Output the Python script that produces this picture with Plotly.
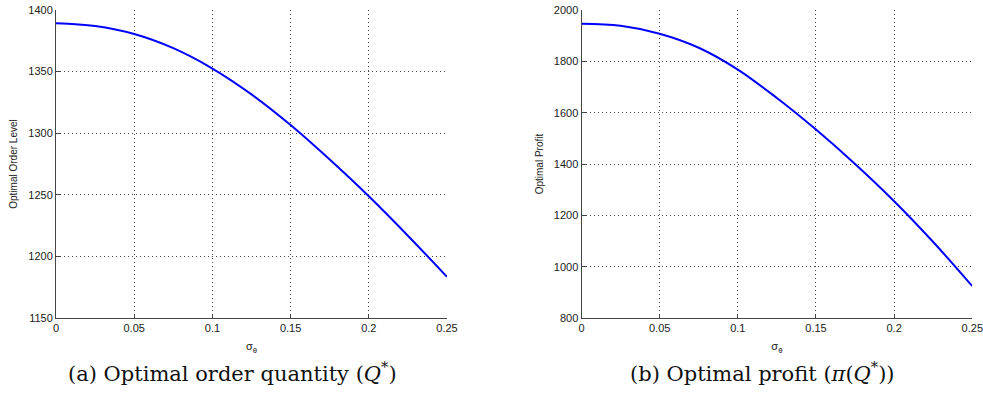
import plotly.graph_objects as go

# sigma_theta values
sigma = [0.0, 0.025, 0.05, 0.075, 0.1, 0.125, 0.15, 0.175, 0.2, 0.225, 0.25]
# (a) optimal order quantity Q*
order_level = [1389.3, 1387.0, 1380.5, 1369.0, 1352.5, 1331.5, 1306.6, 1278.6, 1248.8, 1216.8, 1183.4]
# (b) optimal profit pi(Q*)
profit = [1946.5, 1938.5, 1907.5, 1853.0, 1768.0, 1657.0, 1534.0, 1400.0, 1255.0, 1096.0, 924.0]

x_ticks = [0, 0.05, 0.1, 0.15, 0.2, 0.25]
x_ticktext = ["0", "0.05", "0.1", "0.15", "0.2", "0.25"]
y1_ticks = [1150, 1200, 1250, 1300, 1350, 1400]
y2_ticks = [800, 1000, 1200, 1400, 1600, 1800, 2000]

x_title = "σ<sub>θ</sub>"
y1_title = "Optimal Order Level"
y2_title = "Optimal Profit"
cap_a = "(a) Optimal order quantity (<i>Q</i><sup>*</sup>)"
cap_b = "(b) Optimal profit (<i>π</i>(<i>Q</i><sup>*</sup>))"

W, H = 983, 403
sans = "Liberation Sans, Arial, sans-serif"
tick_font = dict(family=sans, size=11, color="#222")
title_font = dict(family=sans, size=10, color="#222")
xtitle_font = dict(family=sans, size=11, color="#222")
cap_font = dict(family="DejaVu Serif, Liberation Serif, serif", size=21, color="#111")

fig = go.Figure()
fig.add_trace(go.Scatter(x=sigma, y=order_level, mode="lines",
                         line=dict(color="#0000ff", width=2, shape="spline", smoothing=1.0),
                         xaxis="x", yaxis="y", showlegend=False))
fig.add_trace(go.Scatter(x=sigma, y=profit, mode="lines",
                         line=dict(color="#0000ff", width=2, shape="spline", smoothing=1.0),
                         xaxis="x2", yaxis="y2", showlegend=False))

common_axis = dict(showline=True, linecolor="#444", linewidth=1, ticks="inside", ticklen=4, tickcolor="#444",
                   showgrid=True, gridcolor="#444", gridwidth=1, griddash="1px,3px", zeroline=False,
                   mirror=False, tickfont=tick_font, automargin=False, ticklabeloverflow="allow")

y_dom = [1 - 318 / H, 1 - 10 / H]
fig.update_layout(
    width=W, height=H,
    margin=dict(l=0, r=0, t=0, b=0, autoexpand=False),
    paper_bgcolor="white", plot_bgcolor="white",
    xaxis=dict(domain=[56 / W, 447 / W], range=[0, 0.25], tickvals=x_ticks, ticktext=x_ticktext,
               anchor="y", title=dict(text=x_title, font=xtitle_font, standoff=9), **common_axis),
    yaxis=dict(domain=y_dom, range=[1150, 1400], tickvals=y1_ticks, anchor="x",
               title=dict(text=y1_title, font=title_font, standoff=8), **common_axis),
    xaxis2=dict(domain=[581.5 / W, 972.3 / W], range=[0, 0.25], tickvals=x_ticks, ticktext=x_ticktext,
                anchor="y2", title=dict(text=x_title, font=xtitle_font, standoff=9), **common_axis),
    yaxis2=dict(domain=y_dom, range=[800, 2000], tickvals=y2_ticks, anchor="x2",
                title=dict(text=y2_title, font=title_font, standoff=8), **common_axis),
    annotations=[
        dict(text=cap_a, x=232 / W, y=1 - 372 / H, xref="paper", yref="paper", showarrow=False,
             xanchor="center", yanchor="middle", font=cap_font),
        dict(text=cap_b, x=762 / W, y=1 - 372 / H, xref="paper", yref="paper", showarrow=False,
             xanchor="center", yanchor="middle", font=cap_font),
    ],
)

fig.write_html("out.html", config={"displayModeBar": False},
               post_script="document.body.style.margin='0';document.body.style.overflow='hidden';")
